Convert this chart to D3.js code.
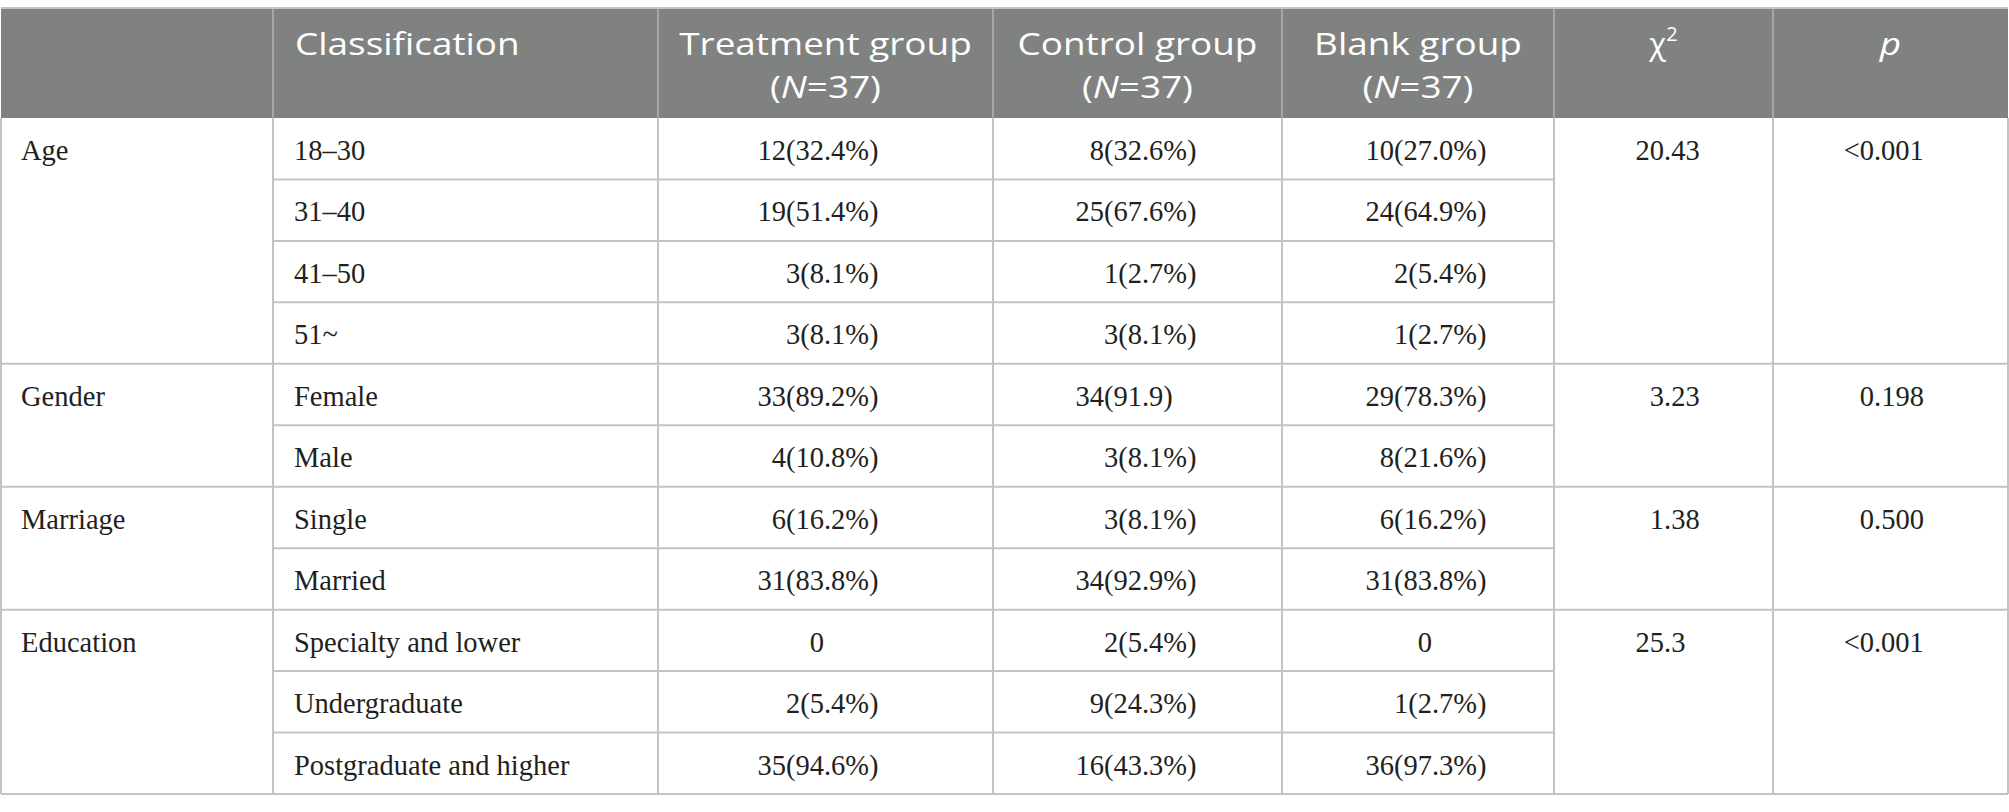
<!DOCTYPE html>
<html>
<head>
<meta charset="utf-8">
<script src="https://cdn.jsdelivr.net/npm/d3@7"></script>
<style>
  body { margin: 0; background: #fff; }
</style>
</head>
<body>
<div id="table"></div>
<script>
// table content
var groups = ["Age", "Gender", "Marriage", "Education"];
var classifications = [
  ["18–30", "31–40", "41–50", "51~"],
  ["Female", "Male"],
  ["Single", "Married"],
  ["Specialty and lower", "Undergraduate", "Postgraduate and higher"]
];
var treatment = ["12(32.4%)", "19(51.4%)", "3(8.1%)", "3(8.1%)", "33(89.2%)", "4(10.8%)",
                 "6(16.2%)", "31(83.8%)", "0", "2(5.4%)", "35(94.6%)"];
var control = ["8(32.6%)", "25(67.6%)", "1(2.7%)", "3(8.1%)", "34(91.9)", "3(8.1%)",
               "3(8.1%)", "34(92.9%)", "2(5.4%)", "9(24.3%)", "16(43.3%)"];
var blank = ["10(27.0%)", "24(64.9%)", "2(5.4%)", "1(2.7%)", "29(78.3%)", "8(21.6%)",
             "6(16.2%)", "31(83.8%)", "0", "1(2.7%)", "36(97.3%)"];
var chiSquare = ["20.43", "3.23", "1.38", "25.3"];
var pValues = ["<0.001", "0.198", "0.500", "<0.001"];

var width = 2009, height = 812;
var colEdges = [1, 273, 658, 993, 1282, 1554, 1773, 2008];
var headTop = 9, headBottom = 118, bottom = 794;
var lineColor = "#c3c3c3";
var serif = "'Liberation Serif', 'Times New Roman', serif";
var sans = "'Open Sans', 'Noto Sans', sans-serif";

var svg = d3.select("#table").append("svg")
    .attr("width", width)
    .attr("height", height);

// flatten rows
var rows = [];
classifications.forEach(function(list, gi) {
  list.forEach(function(c, k) {
    rows.push({group: gi, first: k == 0, last: k == list.length - 1, label: c});
  });
});

var y = d3.scaleBand()
    .domain(d3.range(rows.length))
    .range([headBottom, bottom]);

// header
svg.append("rect")
    .attr("x", colEdges[0]).attr("y", headTop)
    .attr("width", colEdges[colEdges.length - 1] - colEdges[0])
    .attr("height", headBottom - headTop)
    .attr("fill", "#808281");

var head = svg.append("g")
    .attr("font-family", sans)
    .attr("font-size", 31)
    .attr("fill", "#fff");

function colMid(i) { return (colEdges[i] + colEdges[i + 1]) / 2; }

// the header face is wider than Open Sans, so widen the glyphs a bit
var widen = 1.19;
function stretch(t) {
  var len = t.node().getComputedTextLength();
  t.attr("textLength", len * widen).attr("lengthAdjust", "spacingAndGlyphs");
}

var line1 = 55, line2 = 97.5;

stretch(head.append("text").attr("x", colEdges[1] + 22).attr("y", line1).text("Classification"));

var groupHeads = ["Treatment group", "Control group", "Blank group"];
groupHeads.forEach(function(h, i) {
  stretch(head.append("text").attr("text-anchor", "middle")
      .attr("x", colMid(i + 2)).attr("y", line1).text(h));
  var l2 = head.append("text").attr("text-anchor", "middle")
      .attr("x", colMid(i + 2)).attr("y", line2);
  l2.append("tspan").text("(");
  l2.append("tspan").attr("font-style", "italic").text("N");
  l2.append("tspan").text("=37)");
  stretch(l2);
});

var chi = head.append("text").attr("x", colMid(5)).attr("y", line1).attr("text-anchor", "middle");
chi.append("tspan").text("χ");
chi.append("tspan").attr("font-size", 20).attr("dy", -14).text("2");

stretch(head.append("text").attr("x", colMid(6)).attr("y", line1).attr("text-anchor", "middle")
    .attr("font-style", "italic").text("p"));

// header vertical separators
svg.append("g").selectAll("line")
    .data(colEdges.slice(1, -1))
    .enter().append("line")
    .attr("x1", function(d) { return d; }).attr("x2", function(d) { return d; })
    .attr("y1", headTop).attr("y2", headBottom)
    .attr("stroke", "#a6a6a6").attr("stroke-width", 2);

// grid lines in body
var grid = svg.append("g").attr("stroke", lineColor).attr("stroke-width", 2);

rows.forEach(function(r, i) {
  var yy = y(i) + y.bandwidth();
  var x0 = r.last ? colEdges[0] : colEdges[1];
  var x1 = r.last ? colEdges[colEdges.length - 1] : colEdges[5];
  grid.append("line").attr("x1", x0).attr("x2", x1).attr("y1", yy).attr("y2", yy);
});
colEdges.forEach(function(x) {
  grid.append("line").attr("x1", x).attr("x2", x).attr("y1", headBottom).attr("y2", bottom);
});
// top border
svg.append("line")
    .attr("x1", colEdges[0]).attr("x2", colEdges[colEdges.length - 1])
    .attr("y1", headTop - 1).attr("y2", headTop - 1)
    .attr("stroke", lineColor).attr("stroke-width", 2);

// body text
var body = svg.append("g")
    .attr("font-family", serif)
    .attr("font-size", 28.5)
    .attr("fill", "#231f20");

var baseline = 42;

// put the decimal point of a value at x = dec
function decimalText(str, dec, yy) {
  var t = body.append("text").attr("x", 0).attr("y", yy).text(str);
  var i = str.indexOf(".");
  var w = i < 0 ? t.node().getComputedTextLength() : t.node().getSubStringLength(0, i);
  t.attr("x", dec - w);
}

var decCols = [824, 1142, 1432];
rows.forEach(function(r, i) {
  var yy = y(i) + baseline;
  if (r.first) {
    body.append("text").attr("x", colEdges[0] + 20).attr("y", yy).text(groups[r.group]);
    decimalText(chiSquare[r.group], 1664, yy);
    decimalText(pValues[r.group], 1874, yy);
  }
  body.append("text").attr("x", colEdges[1] + 21).attr("y", yy).text(r.label);
  [treatment, control, blank].forEach(function(series, k) {
    decimalText(series[i], decCols[k], yy);
  });
});
</script>
</body>
</html>
